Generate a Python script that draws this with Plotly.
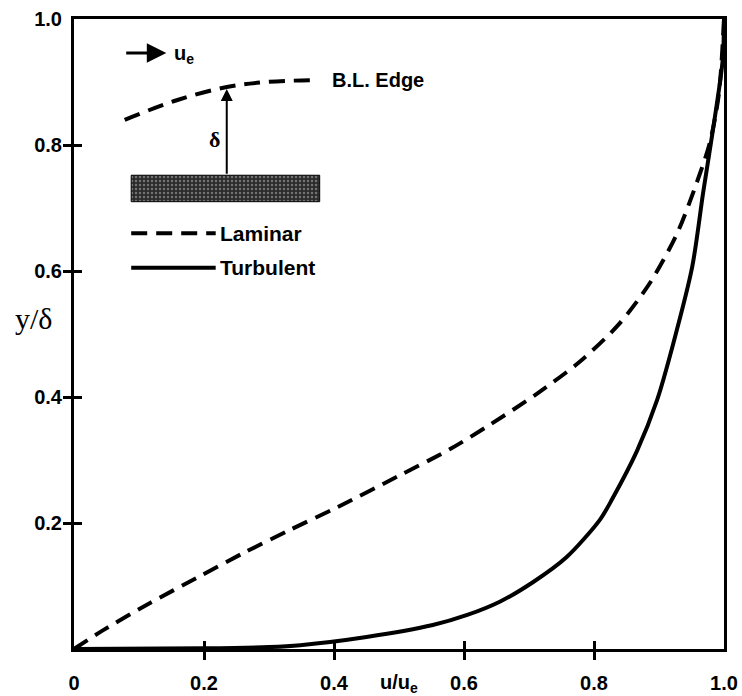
import plotly.graph_objects as go

# ---- data ----
lam_u = [0, 0.045, 0.117, 0.189, 0.26, 0.332, 0.405, 0.50, 0.578, 0.64, 0.712,
         0.778, 0.837, 0.886, 0.928, 0.958, 0.978, 0.992, 1.0]
lam_y = [0, 0.030, 0.073, 0.113, 0.152, 0.189, 0.225, 0.275, 0.317, 0.356, 0.405,
         0.456, 0.514, 0.581, 0.660, 0.740, 0.803, 0.88, 1.0]

turb_u = [0, 0.2, 0.3, 0.348, 0.45, 0.552, 0.605, 0.655, 0.706, 0.758, 0.809,
          0.828, 0.866, 0.897, 0.922, 0.951, 0.968, 0.983, 0.998, 1.0]
turb_y = [0, 0.001, 0.003, 0.006, 0.019, 0.038, 0.054, 0.075, 0.106, 0.146, 0.205,
          0.238, 0.314, 0.395, 0.485, 0.606, 0.725, 0.824, 0.935, 1.0]

# inset sketch (boundary-layer edge and plate)
edge_u = [0.078, 0.158, 0.235, 0.297, 0.368]
edge_y = [0.840, 0.871, 0.892, 0.900, 0.903]
plate_u = [0.088, 0.378, 0.378, 0.088, 0.088]
plate_y = [0.710, 0.710, 0.752, 0.752, 0.710]

x_tickvals = [0, 0.2, 0.4, 0.6, 0.8, 1.0]
x_ticktext = ["0", "0.2", "0.4", "0.6", "0.8", "1.0"]
y_tickvals = [0.2, 0.4, 0.6, 0.8, 1.0]
y_ticktext = ["0.2", "0.4", "0.6", "0.8", "1.0"]
minor_marks = [0.2, 0.4, 0.6, 0.8]

FONT = "Liberation Sans"
DASH = "16px,9px"

fig = go.Figure()

fig.add_trace(go.Scatter(x=lam_u, y=lam_y, mode="lines", line=dict(color="black", width=4, dash=DASH, shape="spline", smoothing=0.8), showlegend=False, hoverinfo="skip"))
fig.add_trace(go.Scatter(x=turb_u, y=turb_y, mode="lines", line=dict(color="black", width=4, shape="spline", smoothing=0.8), showlegend=False, hoverinfo="skip"))
fig.add_trace(go.Scatter(x=edge_u, y=edge_y, mode="lines", line=dict(color="black", width=4, dash=DASH, shape="spline"), showlegend=False, hoverinfo="skip"))
fig.add_trace(go.Scatter(x=plate_u, y=plate_y, mode="lines", fill="toself",
                         fillcolor="#333333",
                         fillpattern=dict(shape=".", bgcolor="#2a2a2a", fgcolor="#bbbbbb", size=4, solidity=0.3),
                         line=dict(color="black", width=1), showlegend=False, hoverinfo="skip"))

# legend keys
key_x0, key_x1 = 0.088, 0.218
fig.add_shape(type="line", x0=key_x0, x1=key_x1, y0=0.66, y1=0.66, xref="x", yref="y", line=dict(color="black", width=4, dash=DASH))
fig.add_shape(type="line", x0=key_x0, x1=key_x1, y0=0.605, y1=0.605, xref="x", yref="y", line=dict(color="black", width=4))

ann = []
ann.append(dict(x=0.222, y=0.66, xref="x", yref="y", text="<b>Laminar</b>", showarrow=False, xanchor="left", yanchor="middle", font=dict(family=FONT, size=21, color="black")))
ann.append(dict(x=0.222, y=0.605, xref="x", yref="y", text="<b>Turbulent</b>", showarrow=False, xanchor="left", yanchor="middle", font=dict(family=FONT, size=21, color="black")))
ann.append(dict(x=0.394, y=0.903, xref="x", yref="y", text="<b>B.L. Edge</b>", showarrow=False, xanchor="left", yanchor="middle", font=dict(family=FONT, size=20, color="black")))
# u_e arrow
ann.append(dict(x=0.142, y=0.946, ax=0.078, ay=0.946, xref="x", yref="y", axref="x", ayref="y", text="", showarrow=True, arrowhead=2, arrowsize=1.3, arrowwidth=3, arrowcolor="black"))
ann.append(dict(x=0.150, y=0.943, xref="x", yref="y", text="<b>u<sub>e</sub></b>", showarrow=False, xanchor="left", yanchor="middle", font=dict(family=FONT, size=20, color="black")))
# delta arrow
ann.append(dict(x=0.235, y=0.889, ax=0.235, ay=0.752, xref="x", yref="y", axref="x", ayref="y", text="", showarrow=True, arrowhead=2, arrowsize=1.2, arrowwidth=2, arrowcolor="black"))
ann.append(dict(x=0.228, y=0.808, xref="x", yref="y", text="<b>δ</b>", showarrow=False, xanchor="right", yanchor="middle", font=dict(family="Liberation Serif", size=22, color="black")))
# axis titles
ann.append(dict(x=0.5, y=-0.055, xref="paper", yref="paper", text="<b>u/u<sub>e</sub></b>", showarrow=False, xanchor="center", yanchor="middle", font=dict(family=FONT, size=20, color="black")))
ann.append(dict(x=-0.062, y=0.524, xref="paper", yref="paper", text="y/δ", showarrow=False, xanchor="center", yanchor="middle", font=dict(family="Liberation Serif", size=30, color="black")))

tick_font = dict(family=FONT, size=20, color="black", weight="bold")
minor_ticks = dict(tickvals=minor_marks, ticks="outside", ticklen=8, tickwidth=2.5, tickcolor="black", showgrid=False)

fig.update_layout(
    width=742, height=696,
    margin=dict(l=74, r=18, t=19, b=47, autoexpand=False),
    paper_bgcolor="white", plot_bgcolor="white",
    annotations=ann,
    showlegend=False,
    xaxis=dict(range=[0, 1], showgrid=False, zeroline=False, showline=True, mirror=True, linecolor="black", linewidth=3,
               tickvals=x_tickvals, ticktext=x_ticktext, ticks="inside", ticklen=8, tickwidth=2.5, tickcolor="black",
               ticklabelstandoff=14, tickfont=tick_font, automargin=False, minor=minor_ticks),
    yaxis=dict(range=[0, 1], showgrid=False, zeroline=False, showline=True, mirror=True, linecolor="black", linewidth=3,
               tickvals=y_tickvals, ticktext=y_ticktext, ticks="inside", ticklen=8, tickwidth=2.5, tickcolor="black",
               ticklabelstandoff=5, tickfont=tick_font, automargin=False, minor=minor_ticks),
)

fig.write_html("out.html")
